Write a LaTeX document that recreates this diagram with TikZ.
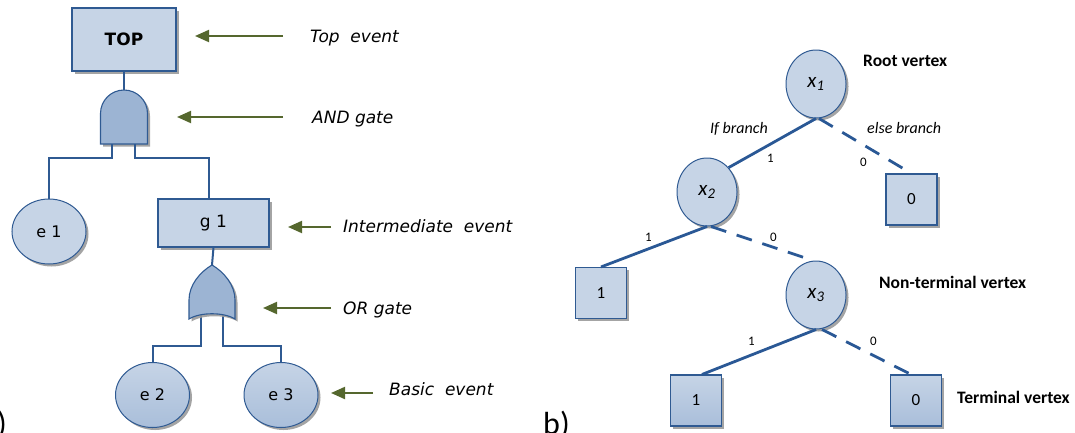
\documentclass[tikz,border=0pt]{standalone}
\usepackage{fontspec}
\setmainfont{DejaVu Sans}
\newfontfamily\calfont{Carlito}
\usetikzlibrary{shapes.geometric,arrows.meta,shadows}
\definecolor{lbf}{HTML}{C6D4E6}
\definecolor{lbdark}{HTML}{A9BEDA}
\definecolor{gatef}{HTML}{9CB4D3}
\definecolor{edgec}{HTML}{2F5A92}
\definecolor{rline}{HTML}{2A5895}
\definecolor{garr}{HTML}{55672E}
\definecolor{shadowc}{HTML}{9A9A9A}
\tikzset{
  softshadow/.style={drop shadow={shadow xshift=2.5pt,shadow yshift=-2.5pt,fill=shadowc,opacity=0.9}},
  evbox/.style={rectangle, draw=edgec, line width=1.1pt, fill=lbf, inner sep=0pt, softshadow},
  basicev/.style={ellipse, draw=edgec, line width=1pt, fill=lbf, minimum width=74pt, minimum height=65pt, inner sep=0pt, softshadow, font=\fontsize{16}{18}\selectfont},
  vertex/.style={ellipse, draw=edgec, line width=1pt, fill=lbf, minimum width=60pt, minimum height=68pt, inner sep=0pt, softshadow, font=\calfont\fontsize{21}{24}\selectfont\itshape},
  term/.style={rectangle, draw=edgec, line width=1.1pt, fill=lbf, minimum width=51pt, minimum height=51pt, inner sep=0pt, softshadow, font=\calfont\fontsize{17}{20}\selectfont},
  grad/.style={top color=lbf, middle color=lbf, bottom color=lbdark},
  gatest/.style={draw=edgec, line width=1.1pt, fill=gatef, softshadow},
  conn/.style={draw=edgec, line width=2pt},
  rsolid/.style={draw=rline, line width=2.8pt},
  rdash/.style={rsolid, dash pattern=on 16pt off 11pt},
  garrow/.style={draw=garr, line width=2pt, -{Triangle[length=14pt,width=12pt]}},
  lbl/.style={inner sep=0pt, anchor=base west, font=\fontsize{17}{20}\selectfont\itshape},
  rlbl/.style={inner sep=0pt, anchor=base west, font=\calfont\fontsize{17.5}{20}\selectfont\bfseries},
  brl/.style={inner sep=0pt, anchor=base west, font=\calfont\fontsize{16}{19}\selectfont\itshape},
  num/.style={inner sep=0pt, anchor=base west, font=\calfont\fontsize{13}{15}\selectfont},
  tag/.style={inner sep=0pt, font=\calfont\fontsize{32}{36}\selectfont},
}
\begin{document}
\begin{tikzpicture}[x=1pt,y=-1pt]
\useasboundingbox (0,0) rectangle (1075,432);
% ---------- a) fault tree ----------
\node[evbox, minimum width=104pt, minimum height=63pt, font=\fontsize{17}{20}\selectfont\bfseries] (top) at (124,39.5) {TOP};
\node[evbox, minimum width=111pt, minimum height=48pt, font=\fontsize{17}{20}\selectfont] (g1) at (213.5,223) {g 1};
\node[basicev] (e1) at (49,231.5) {e 1};
\node[basicev, grad] (e2) at (152.5,395) {e 2};
\node[basicev, grad] (e3) at (281,395) {e 3};
% AND gate
\coordinate (andtop) at (124,90);
\coordinate (andL) at (112,144);
\coordinate (andR) at (135,144);
\path[gatest] (100.5,144) -- (100.5,113.5) .. controls (100.5,100.5) and (111,90) .. (andtop)
   .. controls (137,90) and (147.5,100.5) .. (147.5,113.5) -- (147.5,144) -- cycle;
\draw[conn] (top.south) -- (andtop);
\draw[conn] (andL) -- ++(0,14) -| (e1.north);
\draw[conn] (andR) -- ++(0,14) -| ([xshift=-5pt]g1.north);
% OR gate
\coordinate (ortop) at (212,265);
\coordinate (orL) at (201,312);
\coordinate (orR) at (223,312);
\draw[conn] (orL) -- ++(0,34) -| (e2.north);
\draw[conn] (orR) -- ++(0,34) -| (e3.north);
\path[gatest] (ortop) .. controls (200,272) and (189,285) .. (189,300) -- (189,319)
   .. controls (200,312) and (224,312) .. (235,319) -- (235,300)
   .. controls (235,285) and (224,272) .. (ortop) -- cycle;
\draw[conn] (g1.south) -- (ortop);
% labels and arrows
\node[lbl] (ltop) at (310,42) {Top\ \ event};
\node[lbl] (land) at (312,123) {AND gate};
\node[lbl] (lint) at (343,232) {Intermediate\ \ event};
\node[lbl] (lor) at (343,314) {OR gate};
\node[lbl] (lbas) at (389,395) {Basic\ \ event};
\coordinate (t1) at (283,36);  \coordinate (h1) at (195,36);
\coordinate (t2) at (283,117); \coordinate (h2) at (177,117);
\coordinate (t3) at (331,227); \coordinate (h3) at (288,227);
\coordinate (t4) at (331,308); \coordinate (h4) at (263,308);
\coordinate (t5) at (373,393); \coordinate (h5) at (331,393);
\draw[garrow] (t1) -- (h1);
\draw[garrow] (t2) -- (h2);
\draw[garrow] (t3) -- (h3);
\draw[garrow] (t4) -- (h4);
\draw[garrow] (t5) -- (h5);
\node[tag, anchor=base east] (taga) at (7,434) {a)};
% ---------- b) BDD ----------
\node[vertex] (x1) at (816,84) {x\textsubscript{1}};
\node[vertex] (x2) at (707,192) {x\textsubscript{2}};
\node[vertex] (x3) at (816,295) {x\textsubscript{3}};
\node[term] (t0a) at (911.5,199.5) {0};
\node[term] (t1a) at (601,293) {1};
\node[term, grad] (t1b) at (696,400.5) {1};
\node[term, grad] (t0b) at (916,400.5) {0};
\draw[rsolid] (x1.south) -- (x2.north east);
\draw[rdash] ([xshift=3pt]x1.south) -- (t0a.north);
\draw[rsolid] (x2.south) -- (t1a.north);
\draw[rdash] ([xshift=4pt]x2.south) -- ([xshift=-3pt]x3.north);
\draw[rsolid] (x3.south) -- ([xshift=6pt]t1b.north);
\draw[rdash] ([xshift=6pt]x3.south) -- ([xshift=-5pt]t0b.north);
\node[rlbl] (lroot) at (863,66.7) {Root vertex};
\node[rlbl] (lnon) at (879,288) {Non-terminal vertex};
\node[rlbl] (lterm) at (957,403) {Terminal vertex};
\node[brl] (lif) at (710,133) {If branch};
\node[brl] (lelse) at (867,133) {else branch};
\node[num] (n1) at (767,162) {1};
\node[num] (n2) at (860,166) {0};
\node[num] (n3) at (645,241) {1};
\node[num] (n4) at (770,241) {0};
\node[num] (n5) at (748,345) {1};
\node[num] (n6) at (870,345) {0};
\node[tag, anchor=base west] (tagb) at (543,434) {b)};
\end{tikzpicture}
\end{document}
